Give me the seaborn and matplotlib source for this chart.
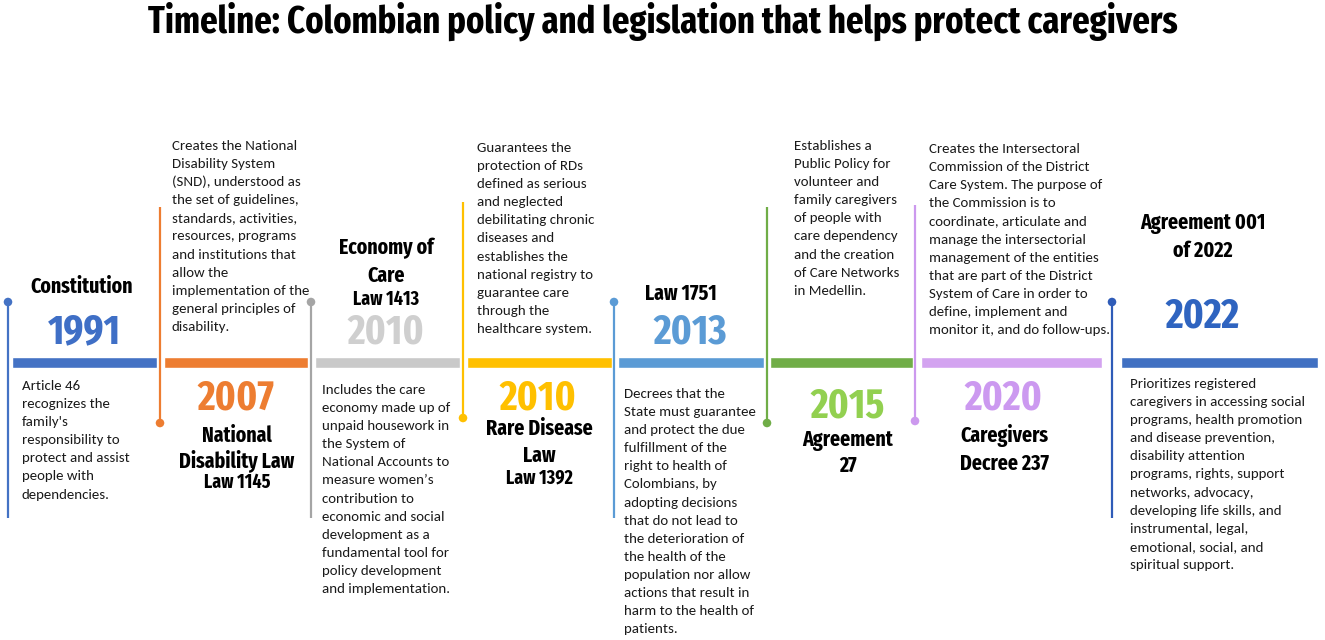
import matplotlib
matplotlib.use("Agg")
import matplotlib.pyplot as plt
import matplotlib.font_manager as fm
import pandas as pd
import seaborn as sns

# ---- data ----
years = ["1991", "2007", "2010", "2010", "2013", "2015", "2020", "2022"]
titles = [
    ["Constitution"],
    ["National", "Disability Law"],
    ["Economy of", "Care"],
    ["Rare Disease", "Law"],
    ["Law 1751"],
    ["Agreement", "27"],
    ["Caregivers", "Decree 237"],
    ["Agreement 001", "of 2022"],
]
laws = ["", "Law 1145", "Law 1413", "Law 1392", "", "", "", ""]
descriptions = [
    ["Article 46", "recognizes the", "family's", "responsibility to",
     "protect and assist", "people with", "dependencies."],
    ["Creates the National", "Disability System", "(SND), understood as",
     "the set of guidelines,", "standards, activities,", "resources, programs",
     "and institutions that", "allow the", "implementation of the",
     "general principles of", "disability."],
    ["Includes the care", "economy made up of", "unpaid housework in",
     "the System of", "National Accounts to", "measure women\u2019s",
     "contribution to", "economic and social", "development as a",
     "fundamental tool for", "policy development", "and implementation."],
    ["Guarantees the", "protection of RDs", "defined as serious",
     "and neglected", "debilitating chronic", "diseases and",
     "establishes the", "national registry to", "guarantee care",
     "through the", "healthcare system."],
    ["Decrees that the", "State must guarantee", "and protect the due",
     "fulfillment of the", "right to health of", "Colombians, by",
     "adopting decisions", "that do not lead to", "the deterioration of",
     "the health of the", "population nor allow", "actions that result in",
     "harm to the health of", "patients."],
    ["Establishes a", "Public Policy for", "volunteer and",
     "family caregivers", "of people with", "care dependency",
     "and the creation", "of Care Networks", "in Medellin."],
    ["Creates the Intersectoral", "Commission of the District",
     "Care System. The purpose of", "the Commission is to",
     "coordinate, articulate and", "manage the intersectorial",
     "management of the entities", "that are part of the District",
     "System of Care in order to", "define, implement and",
     "monitor it, and do follow-ups."],
    ["Prioritizes registered", "caregivers in accessing social",
     "programs, health promotion", "and disease prevention,",
     "disability attention", "programs, rights, support",
     "networks, advocacy,", "developing life skills, and",
     "instrumental, legal,", "emotional, social, and",
     "spiritual support."],
]
bar_colors = ["#4472C4", "#ED7D31", "#C9C9C9", "#FFC000",
              "#5B9BD5", "#70AD47", "#D3A3F0", "#4070C2"]
line_colors = ["#4472C4", "#ED7D31", "#A5A5A5", "#FFC000",
               "#5B9BD5", "#70AD47", "#CC99EE", "#2F5CB8"]
year_colors = ["#3F6FC6", "#ED7D31", "#CFCFCF", "#FFC000",
               "#5B9BD5", "#92D050", "#CC99F0", "#2F64C0"]

# ---- layout (pixel coordinates, y downwards) ----
seg_x = [(12, 157), (164, 308), (315, 460), (467, 612),
         (618, 764), (770, 913), (921, 1102), (1121, 1318)]
stem_x = [8, 160, 311, 463, 614, 767, 915, 1112]
stem_y = [(302, 518), (207, 423), (302, 518), (202, 418),
          (302, 518), (207, 423), (205, 421), (302, 518)]
dot_top = [True, False, True, False, True, False, False, True]
year_pos = [(84, 343), (236, 410), (386, 343), (538, 410),
            (690, 343), (848, 418), (1003, 410), (1202, 327)]
title_cx = [82, 237, 386, 539, 681, 848, 1004, 1203]
title_y = [[293], [442, 467], [254, 282], [435, 462],
           [300], [446, 472], [442, 470], [229, 257]]
law_y = [None, 488, 305, 483, None, None, None, None]
desc_pos = [(22, 390), (172, 150), (322, 394), (477, 152),
            (624, 398), (794, 150), (929, 153), (1130, 388)]
LINE_H = 18.1
BAR_Y, BAR_H = 362.5, 11

sns.set_theme(style="white")

names = {f.name for f in fm.fontManager.ttflist}
def pick(cands, default):
    for c in cands:
        if c in names:
            return c
    return default

HEAD = pick(["Fira Sans Extra Condensed", "Fira Sans Condensed", "Roboto Condensed",
             "Liberation Sans Narrow", "DejaVu Sans Condensed", "Open Sans Condensed"],
            "DejaVu Sans")
BODY = pick(["Carlito", "Lato", "Open Sans"], "DejaVu Sans")
plt.rcParams['font.family'] = [BODY, 'DejaVu Sans']

fig = plt.figure(figsize=(13.25, 6.4), dpi=100)
ax = fig.add_axes([0, 0, 1, 1])
ax.set_xlim(0, 1325)
ax.set_ylim(640, 0)
ax.axis("off")

head_kw = dict(family=[HEAD, 'DejaVu Sans'], fontweight="bold", fontstretch="condensed")

ax.text(663, 33, "Timeline: Colombian policy and legislation that helps protect caregivers",
        ha="center", va="baseline", fontsize=27, color="black", **head_kw)

# timeline segments
for i, (x0, x1) in enumerate(seg_x):
    ax.barh(BAR_Y, x1 - x0, left=x0, height=BAR_H, color=bar_colors[i], zorder=2)

# stems
for i in range(len(years)):
    ax.vlines(stem_x[i], stem_y[i][0], stem_y[i][1], color=line_colors[i], lw=1.6, zorder=3)

dots = pd.DataFrame({
    "x": stem_x,
    "y": [stem_y[i][0] if dot_top[i] else stem_y[i][1] for i in range(len(years))],
    "event": [str(i) for i in range(len(years))],
})
sns.scatterplot(data=dots, x="x", y="y", hue="event", palette=line_colors,
                s=38, edgecolor="none", legend=False, ax=ax, zorder=4)
ax.set_xlabel("")
ax.set_ylabel("")

for i in range(len(years)):
    yx, yy = year_pos[i]
    ax.text(yx, yy, years[i], ha="center", va="baseline", fontsize=30,
            color=year_colors[i], **head_kw)
    for line, ty in zip(titles[i], title_y[i]):
        ax.text(title_cx[i], ty, line, ha="center", va="baseline", fontsize=15.5,
                color="black", **head_kw)
    if laws[i]:
        ax.text(title_cx[i], law_y[i], laws[i], ha="center", va="baseline",
                fontsize=14, color="black", **head_kw)
    dx, dy = desc_pos[i]
    for k, line in enumerate(descriptions[i]):
        ax.text(dx, dy + k * LINE_H, line, ha="left", va="baseline",
                fontsize=10.7, color="#1a1a1a")

fig.savefig("out.png", dpi=100, facecolor="white")
